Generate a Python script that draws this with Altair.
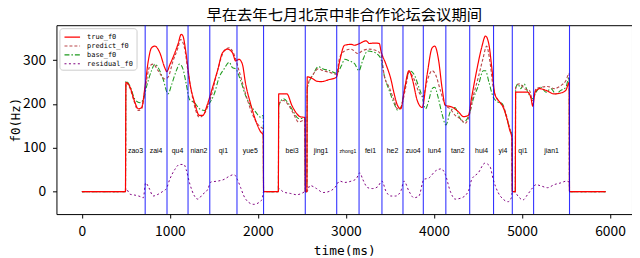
import altair as alt
import pandas as pd

TITLE = "早在去年七月北京中非合作论坛会议期间"
series_names = ["true_f0", "predict_f0", "base_f0", "residual_f0"]

true_t = [0, 495, 500, 548, 595, 641, 679, 716, 754, 791, 829, 885, 941, 965, 1000, 1035, 1091, 1129, 1148, 1185,
          1223, 1279, 1335, 1373, 1429, 1485, 1541, 1598, 1654, 1710, 1748, 1785, 1823, 1860, 1916, 1973, 2029, 2060,
          2064, 2232, 2236, 2329, 2385, 2441, 2479, 2534, 2538, 2556, 2560, 2629, 2666, 2723, 2798, 2891, 2929, 2985,
          3060, 3098, 3154, 3229, 3266, 3323, 3379, 3398, 3454, 3510, 3548, 3585, 3623, 3660, 3716, 3754, 3810, 3866,
          3923, 3979, 4009, 4054, 4091, 4129, 4204, 4279, 4335, 4391, 4429, 4485, 4541, 4586, 4624, 4661, 4691, 4748,
          4785, 4823, 4860, 4886, 4890, 4924, 4928, 4991, 5066, 5104, 5122, 5149, 5198, 5273, 5366, 5441, 5498, 5536,
          5540, 5950]
true_v = [0, 0, 249, 238, 208, 189, 192, 238, 298, 328, 332, 317, 283, 274, 290, 306, 336, 359, 355, 313,
          253, 204, 174, 174, 201, 238, 276, 317, 325, 317, 298, 302, 291, 246, 201, 163, 137, 129,
          0, 0, 223, 223, 197, 178, 171, 169, 0, 0, 262, 257, 252, 251, 255, 261, 298, 334,
          336, 334, 338, 344, 338, 339, 338, 321, 291, 257, 223, 197, 189, 227, 276, 257, 208, 192,
          268, 328, 332, 298, 238, 197, 193, 182, 171, 174, 216, 276, 328, 355, 336, 276, 223, 204,
          193, 171, 141, 122, 0, 0, 227, 227, 227, 212, 195, 227, 235, 231, 223, 225, 231, 249,
          0, 0]

predict_t = [0, 495, 500, 548, 595, 641, 679, 716, 773, 810, 866, 941, 979, 1035, 1091, 1120, 1166, 1204, 1260,
             1335, 1391, 1466, 1541, 1616, 1673, 1729, 1785, 1860, 1935, 1991, 2048, 2060, 2064, 2232, 2236, 2291,
             2348, 2404, 2460, 2516, 2534, 2538, 2556, 2560, 2629, 2685, 2741, 2816, 2891, 2929, 2985, 3060, 3135,
             3191, 3266, 3341, 3398, 3435, 3491, 3548, 3585, 3623, 3679, 3716, 3773, 3829, 3874, 3923, 3979, 4016,
             4073, 4129, 4185, 4241, 4298, 4354, 4391, 4448, 4504, 4560, 4598, 4635, 4673, 4729, 4785, 4823, 4860,
             4886, 4890, 4924, 4928, 4973, 5029, 5085, 5122, 5160, 5216, 5291, 5366, 5441, 5498, 5536, 5540, 5950]
predict_v = [0, 0, 249, 235, 205, 185, 189, 231, 287, 291, 276, 257, 261, 298, 328, 347, 328, 276, 212,
             170, 178, 216, 276, 321, 328, 313, 276, 223, 178, 156, 145, 143, 0, 0, 200, 208,
             197, 178, 159, 163, 165, 0, 0, 238, 268, 280, 276, 272, 268, 306, 321, 325, 315,
             322, 325, 322, 313, 265, 238, 208, 189, 192, 238, 272, 257, 227, 217, 253, 276, 268,
             231, 197, 189, 174, 167, 156, 167, 219, 261, 306, 332, 298, 238, 208, 197, 174, 144,
             125, 0, 0, 238, 246, 235, 231, 208, 235, 238, 240, 235, 242, 253, 270, 0, 0]

base_t = [0, 495, 500, 548, 604, 660, 698, 735, 791, 829, 866, 922, 979, 1016, 1073, 1110, 1148, 1185, 1223, 1279,
          1335, 1391, 1448, 1504, 1560, 1616, 1673, 1710, 1748, 1804, 1860, 1916, 1973, 2029, 2060, 2064, 2232,
          2236, 2291, 2348, 2404, 2460, 2534, 2538, 2556, 2560, 2629, 2685, 2741, 2816, 2891, 2948, 2985, 3041,
          3098, 3148, 3191, 3248, 3304, 3360, 3398, 3435, 3491, 3548, 3585, 3623, 3679, 3723, 3773, 3829, 3866,
          3904, 3941, 3979, 4009, 4046, 4091, 4136, 4185, 4241, 4279, 4335, 4391, 4448, 4504, 4560, 4586, 4624,
          4673, 4729, 4773, 4823, 4860, 4886, 4890, 4924, 4928, 4954, 4985, 5023, 5066, 5122, 5160, 5216, 5273,
          5329, 5385, 5441, 5498, 5536, 5540, 5950]
base_v = [0, 0, 252, 240, 210, 203, 210, 240, 276, 291, 283, 257, 223, 242, 276, 291, 280, 246, 210, 203,
          189, 185, 201, 223, 261, 280, 295, 283, 280, 253, 219, 197, 182, 170, 174, 0, 0,
          195, 212, 201, 182, 167, 167, 0, 0, 235, 268, 285, 280, 276, 270, 287, 302, 298,
          292, 276, 300, 321, 319, 313, 302, 265, 231, 201, 186, 192, 246, 276, 268, 238, 217,
          189, 208, 235, 238, 216, 178, 152, 182, 192, 174, 159, 171, 212, 242, 276, 276, 250,
          216, 204, 201, 171, 144, 129, 0, 0, 235, 246, 235, 246, 227, 212, 227, 238, 227,
          235, 223, 231, 238, 261, 0, 0]

residual_t = [0, 495, 500, 548, 604, 660, 698, 724, 761, 810, 866, 922, 960, 998, 1054, 1110, 1159, 1185, 1223,
              1279, 1316, 1373, 1429, 1466, 1541, 1616, 1673, 1729, 1766, 1804, 1841, 1898, 1954, 2010, 2048,
              2064, 2232, 2236, 2292, 2367, 2441, 2498, 2538, 2556, 2591, 2666, 2741, 2816, 2873, 2929, 2985,
              3060, 3116, 3158, 3191, 3248, 3304, 3360, 3409, 3454, 3510, 3566, 3623, 3660, 3716, 3773, 3829,
              3885, 3941, 4016, 4084, 4129, 4185, 4241, 4316, 4391, 4429, 4504, 4579, 4635, 4673, 4729, 4785,
              4841, 4879, 4890, 4916, 4954, 5010, 5066, 5122, 5160, 5216, 5291, 5366, 5441, 5504, 5536, 5540, 5950]
residual_v = [0, 0, 7, -6, -8, -11, -14, 20, 9, -10, -6, 1, 7, 28, 50, 62, 62, 50, 20,
              -10, -17, -6, 5, 22, 24, 28, 35, 39, 28, 9, -10, -25, -29, -25, -17,
              0, 0, 7, -1, -4, -7, -4, 0, 0, 14, 7, -2, 1, 9, 24, 21,
              24, 29, 43, 28, 9, 7, 11, 24, 1, -10, -10, 1, 24, 1, -14, -10,
              28, 31, 47, 52, 39, 1, -17, -14, 1, 28, 43, 65, 58, 28, -2, -17,
              -23, -14, 0, 0, -10, -19, -6, 9, 16, 13, 9, 16, 20, 24, 22, 0, 0]

syllables = ["zao3", "zai4", "qu4", "nian2", "qi1", "yue5", "bei3", "jing1", "zhong1", "fei1",
             "he2", "zuo4", "lun4", "tan2", "hui4", "yi4", "qi1", "jian1"]
syl_start = [500, 719, 967, 1206, 1453, 1762, 2238, 2538, 2895, 3149, 3409, 3648, 3879, 4135, 4406, 4677, 4890, 5132]
syl_end = [719, 967, 1206, 1453, 1762, 2064, 2538, 2895, 3149, 3409, 3648, 3879, 4135, 4406, 4677, 4890, 5132, 5540]

x_ticks = [0, 1000, 2000, 3000, 4000, 5000, 6000]
y_ticks = [0, 100, 200, 300]

rows = []
for name, ts, vs in [("true_f0", true_t, true_v), ("predict_f0", predict_t, predict_v),
                     ("base_f0", base_t, base_v), ("residual_f0", residual_t, residual_v)]:
    for t, v in zip(ts, vs):
        rows.append({"t": t, "f0": v, "series": name})
df = pd.DataFrame(rows)

syl_df = pd.DataFrame({"syl": syllables, "start": syl_start, "end": syl_end})
syl_df["mid"] = (syl_df["start"] + syl_df["end"]) / 2

xscale = alt.Scale(domain=[-289, 6250], nice=False, zero=False)
yscale = alt.Scale(domain=[-51.2, 379.7], nice=False, zero=False)

x_axis = alt.Axis(values=x_ticks, title="time(ms)", grid=False, domain=False, tickSize=4, tickColor="black",
                  tickWidth=1, labelFont="Noto Sans CJK SC", labelFontSize=14, labelColor="black",
                  labelPadding=7, titleFont="DejaVu Sans Mono", titleFontSize=13, titleFontWeight="normal",
                  titleColor="black", titlePadding=6, format="d", labelFlush=False)
y_axis = alt.Axis(values=y_ticks, title="f0(Hz)", grid=False, domain=False, tickSize=4, tickColor="black",
                  tickWidth=1, labelFont="Noto Sans CJK SC", labelFontSize=14, labelColor="black",
                  labelPadding=7, titleFont="DejaVu Sans Mono", titleFontSize=12.5, titleFontWeight="normal",
                  titleColor="black", titlePadding=0, format="d", labelFlush=False)

color_scale = alt.Scale(domain=series_names, range=["#ff0000", "#b9474a", "#1e9a1e", "#800080"])
dash_scale = alt.Scale(domain=series_names, range=[[1, 0], [3, 2], [5, 2, 1.5, 2], [2, 2.5]])
width_scale = alt.Scale(domain=series_names, range=[1.2, 1.0, 1.0, 2.0])

legend = alt.Legend(title=None, orient="none", legendX=3, legendY=3, padding=3, fillColor="white",
                    strokeColor="#cccccc", cornerRadius=3, symbolType="M-1.5,0H1.5", symbolSize=110,
                    symbolStrokeWidth=1, symbolOffset=4, labelFont="DejaVu Sans Mono", labelFontSize=7,
                    labelColor="black", labelOffset=9, rowPadding=0)

rules = alt.Chart(syl_df).mark_rule(color="#0000ff", opacity=0.8, strokeWidth=1.1).encode(
    x=alt.X("end:Q", scale=xscale, axis=x_axis)
)

def series_layer(name):
    return alt.Chart(df).transform_filter(alt.datum.series == name).mark_line(interpolate="monotone").encode(
        x=alt.X("t:Q", scale=xscale, axis=x_axis),
        y=alt.Y("f0:Q", scale=yscale, axis=y_axis),
        color=alt.Color("series:N", scale=color_scale, legend=legend),
        strokeDash=alt.StrokeDash("series:N", scale=dash_scale, legend=legend),
        strokeWidth=alt.StrokeWidth("series:N", scale=width_scale, legend=None),
        order="t:Q",
    )

texts = alt.Chart(syl_df).mark_text(font="Liberation Sans", color="black").encode(
    x=alt.X("mid:Q", scale=xscale, axis=x_axis),
    y=alt.YDatum(93, scale=yscale, axis=y_axis),
    text="syl:N",
    size=alt.condition("datum.syl == 'zhong1'", alt.value(5.2), alt.value(7)),
)

chart = alt.layer(
    series_layer("residual_f0"),
    series_layer("base_f0"),
    series_layer("predict_f0"),
    series_layer("true_f0"),
    rules,
    texts,
).properties(
    width=582,
    height=191,
    title=alt.Title(TITLE, font="Noto Sans CJK SC", fontSize=15.5, fontWeight="normal", anchor="middle",
                    offset=1, color="black"),
    padding={"left": 49, "top": 16, "right": 0, "bottom": 42},
    autosize=alt.AutoSizeParams(type="none"),
    background="white",
).configure_view(stroke="black", strokeWidth=1)

chart.save("out.html", embed_options={"renderer": "svg", "actions": False})
